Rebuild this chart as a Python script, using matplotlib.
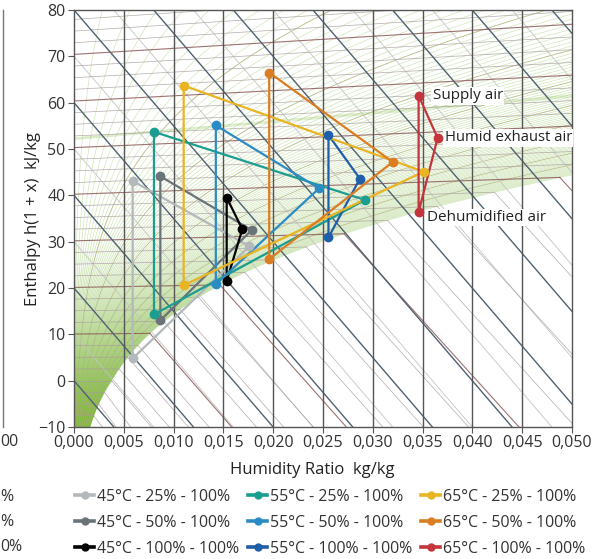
import numpy as np
import matplotlib
matplotlib.use('Agg')
import matplotlib.pyplot as plt
from matplotlib.lines import Line2D
from matplotlib.patches import Polygon
from matplotlib.colors import to_rgb

plt.rcParams['font.family'] = ['Open Sans', 'DejaVu Sans']

# Dehumidifier cycles: supply air -> humid exhaust air -> dehumidified air
# x = humidity ratio kg/kg, y = chart ordinate kJ/kg
labels = ['45°C - 25% - 100%', '45°C - 50% - 100%', '45°C - 100% - 100%',
          '55°C - 25% - 100%', '55°C - 50% - 100%', '55°C - 100% - 100%',
          '65°C - 25% - 100%', '65°C - 50% - 100%', '65°C - 100% - 100%']
colors = ['#b3b8ba', '#6a7378', '#000000',
          '#1b9e90', '#2b8cc4', '#1f5ea8',
          '#e8b424', '#db7d22', '#c3343c']
x_supply = [0.00589, 0.00867, 0.01533, 0.00803, 0.01424, 0.02555, 0.01101, 0.01960, 0.03460]
h_supply = [43.1, 44.1, 39.5, 53.7, 55.1, 53.0, 63.7, 66.5, 61.5]
x_exhaust = [0.01760, 0.01784, 0.01690, 0.02922, 0.02460, 0.02870, 0.03510, 0.03200, 0.03651]
h_exhaust = [29.0, 32.5, 32.7, 39.0, 41.5, 43.6, 45.1, 47.2, 52.4]
x_dehum = [0.00589, 0.00867, 0.01533, 0.00803, 0.01424, 0.02555, 0.01101, 0.01960, 0.03460]
h_dehum = [4.8, 13.0, 21.5, 14.3, 20.8, 30.9, 20.6, 26.2, 36.4]

# moist air properties
P = 101325.0


def p_sat(t):
    t = np.asarray(t, float)
    water = 611.2 * np.exp(17.62 * t / (243.12 + t))
    ice = 611.2 * np.exp(22.46 * t / (272.62 + t))
    return np.where(t >= 0, water, ice)


def x_of(t, phi):
    pv = phi * p_sat(t)
    return 0.622 * pv / (P - pv)


def h_of(t, x):
    return 1.006 * t + x * (2501.0 + 1.86 * t)


def skew(x, h):
    # Mollier ordinate: enthalpy sheared so that 0 degC isotherm is level
    return h - 2501.0 * x


fig = plt.figure(figsize=(6.03, 5.59), dpi=100)
ax = fig.add_axes([74 / 603, 1 - 427 / 559, 498 / 603, 417 / 559])
ax.set_xlim(0, 0.05)
ax.set_ylim(-10, 80)

# green shading of the unsaturated zone, strongest at low temperature
ts = np.linspace(-15, 60, 200)
xs_curve = x_of(ts, 1.0)
ys_curve = skew(xs_curve, h_of(ts, xs_curve))
zone = Polygon(np.column_stack([np.r_[0.0, xs_curve, 0.0],
                                np.r_[ys_curve[0], ys_curve, ys_curve[-1]]]),
               closed=True, facecolor='none', edgecolor='none')
ax.add_patch(zone)
yy = np.linspace(80, -10, 300)
fade = np.clip((32.0 - yy) / 42.0, 0, 1) ** 1.6 * 0.85
shade = np.zeros((300, 2, 4))
shade[:, :, :3] = to_rgb('#78b834')
shade[:, :, 3] = fade[:, None]
img = ax.imshow(shade, extent=[0, 0.05, -10, 80], aspect='auto',
                interpolation='bilinear', zorder=0.5)
img.set_clip_path(zone)

# relative humidity lines
tt = np.linspace(-20, 100, 600)
for phi in np.arange(1, 101) / 100.0:
    xp = x_of(tt, phi)
    ok = xp < 0.2
    ax.plot(xp[ok], skew(xp[ok], h_of(tt[ok], xp[ok])), color='#7cb83a',
            lw=0.45, alpha=0.38, zorder=1)
for phi in np.arange(10, 100, 10) / 100.0:
    xp = x_of(tt, phi)
    ok = xp < 0.2
    ax.plot(xp[ok], skew(xp[ok], h_of(tt[ok], xp[ok])), color='#b2b07a',
            lw=0.6, alpha=0.7, zorder=1)

# constant enthalpy lines
xx = np.array([0.0, 0.06])
for h in np.arange(-20, 230, 10):
    if h % 20 == 0:
        ax.plot(xx, skew(xx, h), color='#4f6272', lw=1.0, zorder=2)
    else:
        ax.plot(xx, skew(xx, h), color='#c4c4c4', lw=0.6, zorder=1)

# isotherms, unsaturated part and fog part
for t in np.arange(-10, 92.5, 2.5):
    xs = float(x_of(t, 1.0))
    if 10 <= t and t % 10 == 0:
        col, lw = '#8c5a5a', 0.8
    else:
        col, lw = '#a89c9c', 0.5
    xa = np.linspace(0, min(xs, 0.06), 50)
    ax.plot(xa, skew(xa, h_of(t, xa)), color=col, lw=lw, alpha=0.85, zorder=1)
    if xs < 0.06:
        xf = np.linspace(xs, 0.06, 20)
        cw = 4.19 * t if t >= 0 else -333.0 + 2.05 * t
        hf = h_of(t, xs) + cw * (xf - xs)
        ax.plot(xf, skew(xf, hf), color=col, lw=lw, alpha=0.85, zorder=1)

# humidity ratio grid
for xv in np.arange(0.005, 0.05, 0.005):
    ax.axvline(xv, color='#555555', lw=1.0, zorder=2)

# cycles
handles = []
for i in range(len(labels)):
    px = [x_supply[i], x_exhaust[i], x_dehum[i], x_supply[i]]
    py = [h_supply[i], h_exhaust[i], h_dehum[i], h_supply[i]]
    ax.plot(px, py, color=colors[i], lw=1.6, zorder=5)
    ax.plot(px[:3], py[:3], 'o', color=colors[i], ms=6, zorder=6)
    handles.append(Line2D([0], [0], color=colors[i], lw=2.6, marker='o', ms=5))

# state labels on the 65 degC / 100 % cycle
box = dict(facecolor='white', edgecolor='none', pad=1.0)
ax.annotate('Supply air', (x_supply[8], h_supply[8]), xytext=(10, 0),
            textcoords='offset points', va='center', fontsize=11,
            color='#222222', bbox=box, zorder=4)
ax.annotate('Humid exhaust air', (x_exhaust[8], h_exhaust[8]), xytext=(5, 0),
            textcoords='offset points', va='center', fontsize=10.7,
            color='#222222', bbox=box, zorder=4, annotation_clip=False)
ax.annotate('Dehumidified air', (x_dehum[8], h_dehum[8]), xytext=(6, -4),
            textcoords='offset points', va='center', fontsize=11,
            color='#222222', bbox=box, zorder=4)

ax.set_xticks(np.arange(0, 0.0501, 0.005))
ax.set_xticklabels([('%.3f' % v).replace('.', ',') for v in np.arange(0, 0.0501, 0.005)])
ax.set_yticks(np.arange(-10, 81, 10))
ax.tick_params(direction='out', length=4, color='#555555', labelsize=11.5,
               labelcolor='#333333', pad=2)
for s in ax.spines.values():
    s.set_color('#555555')
    s.set_linewidth(1.0)

ax.set_ylabel('Enthalpy h(1 + x)  kJ/kg', fontsize=12, color='#222222')
ax.yaxis.set_label_coords(-0.066, 0.5)
fig.text(312 / 603, 1 - 470 / 559, 'Humidity Ratio  kg/kg', fontsize=12,
         color='#222222', ha='center', va='center')

fig.legend(handles, labels, ncol=3, loc='upper left',
           bbox_to_anchor=(75 / 603, 1 - 489 / 559), frameon=False,
           fontsize=11.4, handlelength=1.2, handletextpad=0.2,
           columnspacing=0.55, labelspacing=0.62, borderpad=0,
           borderaxespad=0, labelcolor='#333333')

# edge of the neighbouring panel
fig.add_artist(Line2D([3 / 603, 3 / 603], [1 - 10 / 559, 1 - 427 / 559],
                      color='#777777', lw=1.0))
fig.text(0, 1 - 442 / 559, '00', fontsize=11.5, color='#333333',
         ha='left', va='center')
for yy_, txt in [(497, '%'), (522, '%'), (547, '0%')]:
    fig.text(0, 1 - yy_ / 559, txt, fontsize=11.4, color='#333333',
             ha='left', va='center')

fig.savefig('out.png', dpi=100)
